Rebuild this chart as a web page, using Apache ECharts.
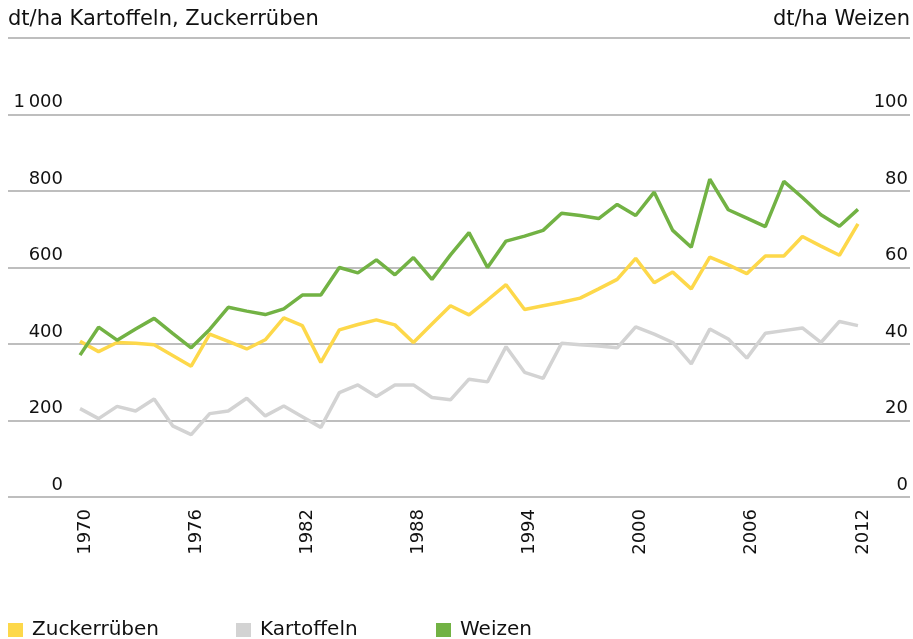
<!DOCTYPE html>
<html>
<head>
<meta charset="utf-8">
<script src="https://cdn.jsdelivr.net/npm/echarts@6/dist/echarts.min.js"></script>
<style>
  html, body { margin: 0; padding: 0; background: #fff; }
  #chart { width: 913px; height: 639px; }
</style>
</head>
<body>
<div id="chart"></div>
<script>
// Erträge in dt/ha, 1970-2012
const years = [
  1970, 1971, 1972, 1973, 1974, 1975, 1976, 1977, 1978, 1979,
  1980, 1981, 1982, 1983, 1984, 1985, 1986, 1987, 1988, 1989,
  1990, 1991, 1992, 1993, 1994, 1995, 1996, 1997, 1998, 1999,
  2000, 2001, 2002, 2003, 2004, 2005, 2006, 2007, 2008, 2009,
  2010, 2011, 2012,
];
const zuckerrueben = [
  407, 380, 404, 402, 398, 370, 342, 426, 407, 387,
  411, 468, 448, 352, 437, 451, 463, 450, 404, 452,
  500, 476, 515, 555, 490, 500, 509, 520, 544, 569,
  624, 560, 588, 544, 627, 607, 584, 630, 630, 681,
  656, 632, 714,
];
const kartoffeln = [
  231, 205, 237, 225, 256, 186, 163, 218, 225, 258,
  212, 238, 210, 182, 273, 293, 263, 293, 293, 260,
  254, 308, 301, 393, 326, 310, 402, 398, 395, 390,
  445, 426, 404, 348, 439, 413, 363, 428, 435, 442,
  404, 459, 448,
];
const weizen = [
  37.1, 44.4, 41.0, 43.9, 46.7, 42.8, 39.0, 43.8, 49.6, 48.6,
  47.7, 49.2, 52.8, 52.8, 60.0, 58.6, 62.0, 58.1, 62.6, 56.9,
  63.3, 69.1, 60.0, 66.9, 68.2, 69.7, 74.2, 73.6, 72.8, 76.5,
  73.6, 79.7, 69.7, 65.3, 83.1, 75.1, 72.9, 70.7, 82.5, 78.3,
  73.8, 70.8, 75.2,
];
const yearLabels = [1970, 1976, 1982, 1988, 1994, 2000, 2006, 2012];

const COLORS = { zr: "#fdd84a", ka: "#d3d3d3", we: "#72b244" };
const FONT = "DejaVu Sans";
const GRID = "#a9a9a9";

// x range so that 1970 and 2012 fall where the reference puts them
const X_MIN = 1966.11;
const X_MAX = 2014.81;
const LABEL_SHIFT = 0.27;

const pairs = (vals) => years.map((y, i) => [y, vals[i]]);

const chart = echarts.init(document.getElementById("chart"));

const legendBase = {
  top: 615,
  orient: "horizontal",
  icon: "rect",
  itemWidth: 15,
  itemHeight: 14,
  textStyle: { fontFamily: FONT, fontSize: 20, color: "#111", padding: [0, 0, 0, 4] },
  selectedMode: false,
};

chart.setOption({
  animation: false,
  textStyle: { fontFamily: FONT },
  grid: { left: 8, right: 3, top: 38, bottom: 142 },
  legend: [
    { ...legendBase, left: 3, data: ["Zuckerrüben"] },
    { ...legendBase, left: 231, data: ["Kartoffeln"] },
    { ...legendBase, left: 431, data: ["Weizen"] },
  ],
  xAxis: [
    {
      type: "value",
      min: X_MIN,
      max: X_MAX,
      axisLine: { show: false },
      axisTick: { show: false },
      splitLine: { show: false },
      axisLabel: { show: false },
    },
    {
      type: "value",
      position: "bottom",
      min: X_MIN - LABEL_SHIFT,
      max: X_MAX - LABEL_SHIFT,
      axisLine: { show: false },
      axisTick: { show: false },
      splitLine: { show: false },
      axisLabel: {
        customValues: yearLabels,
        rotate: 90,
        margin: 12,
        fontSize: 18,
        color: "#111",
        fontFamily: FONT,
        formatter: (v) => String(v),
      },
    },
  ],
  yAxis: [
    {
      type: "value",
      min: 0,
      max: 1200,
      interval: 200,
      name: "dt/ha Kartoffeln, Zuckerrüben",
      nameLocation: "end",
      nameGap: 8,
      nameTextStyle: { align: "left", verticalAlign: "bottom", fontSize: 21, color: "#111", fontFamily: FONT },
      axisLine: { show: false },
      axisTick: { show: false },
      splitLine: { lineStyle: { color: GRID, width: 1.5 } },
      axisLabel: {
        inside: true,
        align: "right",
        verticalAlign: "bottom",
        margin: 55,
        padding: [0, 0, 3, 0],
        fontSize: 18,
        color: "#111",
        fontFamily: FONT,
        formatter: (v) => (v === 1200 ? "" : v === 1000 ? "1\u2009000" : String(v)),
      },
    },
    {
      type: "value",
      min: 0,
      max: 120,
      interval: 20,
      position: "right",
      name: "dt/ha Weizen",
      nameLocation: "end",
      nameGap: 8,
      nameTextStyle: { align: "right", verticalAlign: "bottom", fontSize: 21, color: "#111", fontFamily: FONT },
      axisLine: { show: false },
      axisTick: { show: false },
      splitLine: { show: false },
      axisLabel: {
        inside: true,
        align: "right",
        verticalAlign: "bottom",
        margin: 2,
        padding: [0, 0, 3, 0],
        fontSize: 18,
        color: "#111",
        fontFamily: FONT,
        formatter: (v) => (v === 120 ? "" : String(v)),
      },
    },
  ],
  series: [
    {
      name: "Kartoffeln",
      type: "line",
      data: pairs(kartoffeln),
      showSymbol: false,
      symbol: "none",
      lineStyle: { color: COLORS.ka, width: 3.5 },
      itemStyle: { color: COLORS.ka },
    },
    {
      name: "Zuckerrüben",
      type: "line",
      data: pairs(zuckerrueben),
      showSymbol: false,
      symbol: "none",
      lineStyle: { color: COLORS.zr, width: 3.5 },
      itemStyle: { color: COLORS.zr },
    },
    {
      name: "Weizen",
      type: "line",
      yAxisIndex: 1,
      data: pairs(weizen),
      showSymbol: false,
      symbol: "none",
      lineStyle: { color: COLORS.we, width: 3.5 },
      itemStyle: { color: COLORS.we },
    },
  ],
});
</script>
</body>
</html>
